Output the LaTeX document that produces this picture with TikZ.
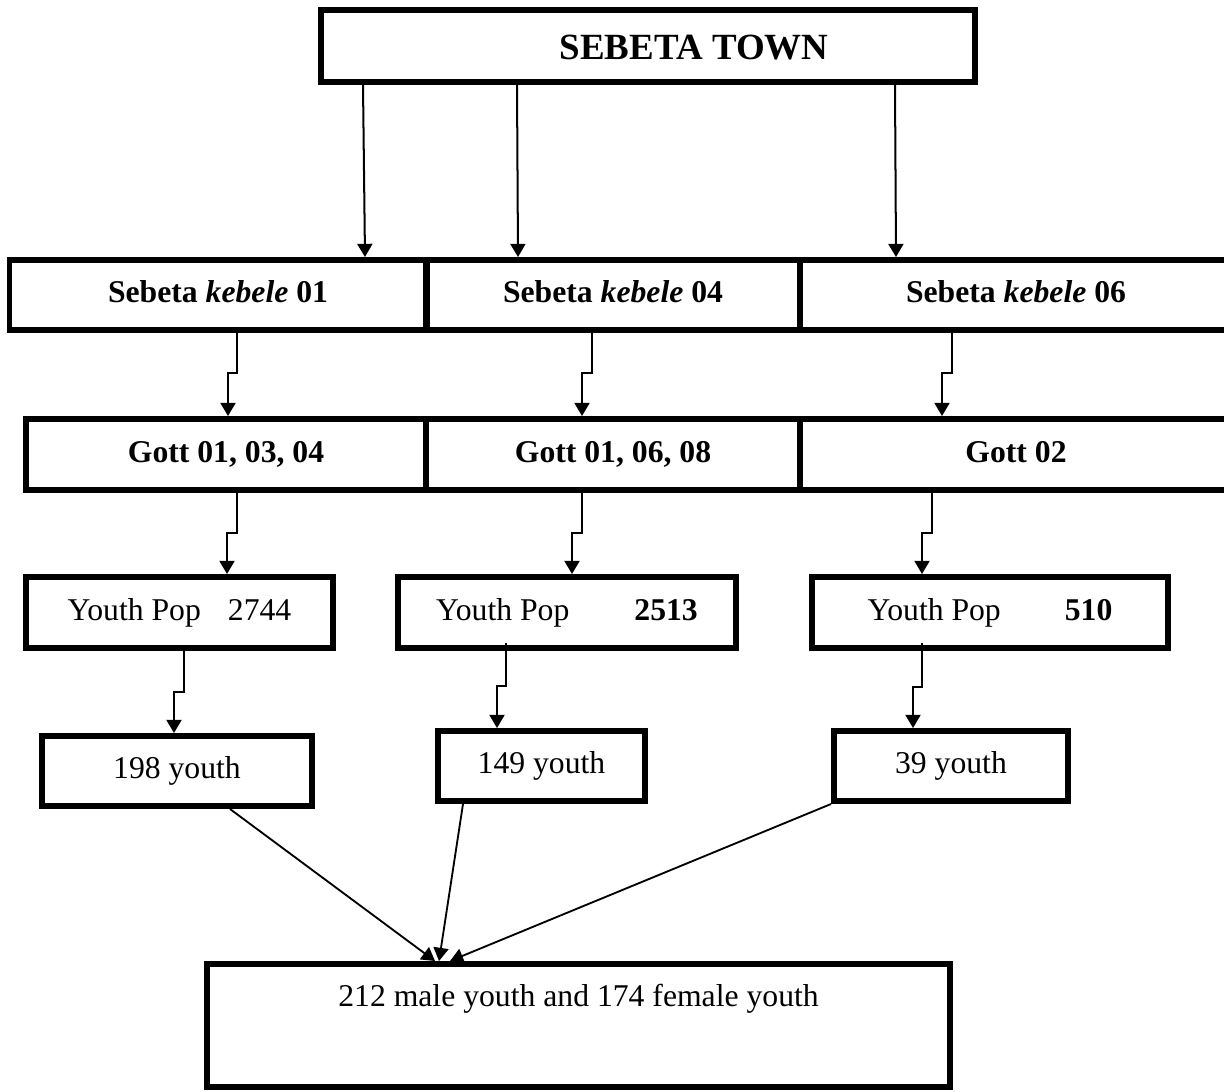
\documentclass[tikz,border=0pt]{standalone}
\usepackage{fontspec}
\setmainfont{Liberation Serif}
\usetikzlibrary{arrows.meta,calc}
\newdimen\pxu \pxu=0.3788pt

\begin{document}
\begin{tikzpicture}[x=\pxu,y=-\pxu,
  box/.style={draw,line width=2.27pt,inner sep=0pt,text height=8.5pt,text depth=2.5pt,font=\fontsize{12}{14}\selectfont},
  level/.style={box,font=\fontsize{12}{14}\selectfont\bfseries},
  arr/.style={-{Triangle[width=5.7pt,length=5pt]},line width=0.76pt},
  diag/.style={-{Triangle[width=5.7pt,length=5pt]},line width=0.7pt}
]
\useasboundingbox (0,0) rectangle (1224,1091);

% Town and kebele rows.
\node[box,minimum width=654\pxu,minimum height=72\pxu,text height=10pt,text depth=0pt,font=\fontsize{14}{17}\selectfont\bfseries] (town) at (648,46) {\hspace*{34.9pt}SEBETA TOWN};
\node[level,minimum width=417\pxu,minimum height=70\pxu] (k1) at (218,295) {Sebeta \textit{kebele} 01};
\node[level,minimum width=374\pxu,minimum height=70\pxu] (k2) at (613,295) {Sebeta \textit{kebele} 04};
\node[level,minimum width=432\pxu,minimum height=70\pxu] (k3) at (1016,295) {Sebeta \textit{kebele} 06};

% Gott row.
\node[level,minimum width=400\pxu,minimum height=71\pxu] (g1) at (226,454.5) {Gott 01, 03, 04};
\node[level,minimum width=374\pxu,minimum height=71\pxu] (g2) at (613,454.5) {Gott 01, 06, 08};
\node[level,minimum width=432\pxu,minimum height=71\pxu] (g3) at (1016,454.5) {Gott 02};

% Youth population and samples.
\node[box,minimum width=307\pxu,minimum height=71\pxu] (y1) at (179.5,612.5) {Youth Pop\hspace{27\pxu}2744};
\node[box,minimum width=338\pxu,minimum height=71\pxu] (y2) at (567,612.5) {Youth Pop\hspace{65\pxu}\textbf{2513}};
\node[box,minimum width=356\pxu,minimum height=71\pxu] (y3) at (990,612.5) {Youth Pop\hspace{64\pxu}\textbf{510}};
\node[box,minimum width=270\pxu,minimum height=70\pxu] (n1) at (177,771) {198 youth};
\node[box,minimum width=207\pxu,minimum height=70\pxu] (n2) at (541.5,766) {149 youth};
\node[box,minimum width=234\pxu,minimum height=70\pxu] (n3) at (951,766) {39 youth};
\node[box,minimum width=743\pxu,text height=42\pxu,text depth=81\pxu] (tot) at (578.5,1025.5) {212 male youth and 174 female youth};

% Connectors.
\draw[arr] ($(town.south)+(-285,0)$) -- ($(k1.north)+(147,0)$);
\draw[arr] ($(town.south)+(-131,0)$) -- ($(k2.north)+(-95,0)$);
\draw[arr] ($(town.south)+(247,0)$) -- ($(k3.north)+(-120,0)$);

\draw[arr] ($(k1.south)+(19,0)$) -- ++(0,40) -| ($(g1.north)+(2,0)$);
\draw[arr] ($(k2.south)+(-21,0)$) -- ++(0,40) -| ($(g2.north)+(-31,0)$);
\draw[arr] ($(k3.south)+(-64,0)$) -- ++(0,40) -| ($(g3.north)+(-74,0)$);

\draw[arr] ($(g1.south)+(11,0)$) -- ++(0,40) -| ($(y1.north)+(47.5,0)$);
\draw[arr] ($(g2.south)+(-31,0)$) -- ++(0,40) -| ($(y2.north)+(5,0)$);
\draw[arr] ($(g3.south)+(-84,0)$) -- ++(0,40) -| ($(y3.north)+(-68,0)$);

\draw[arr] ($(y1.south)+(4.5,0)$) -- ++(0,41) -| ($(n1.north)+(-3,0)$);
\draw[arr] ($(y2.south)+(-61,-8)$) -- ++(0,43) -| ($(n2.north)+(-44.5,0)$);
\draw[arr] ($(y3.south)+(-68,-8)$) -- ++(0,44) -| ($(n3.north)+(-38,0)$);

\draw[diag] ($(n1.south)+(53,0)$) -- ($(tot.north)+(-143.5,0)$);
\draw[diag] ($(n2.south)+(-78.5,0)$) -- ($(tot.north)+(-139.5,0)$);
\draw[diag] (n3.south west) -- ($(tot.north)+(-128.5,0)$);
\end{tikzpicture}
\end{document}
